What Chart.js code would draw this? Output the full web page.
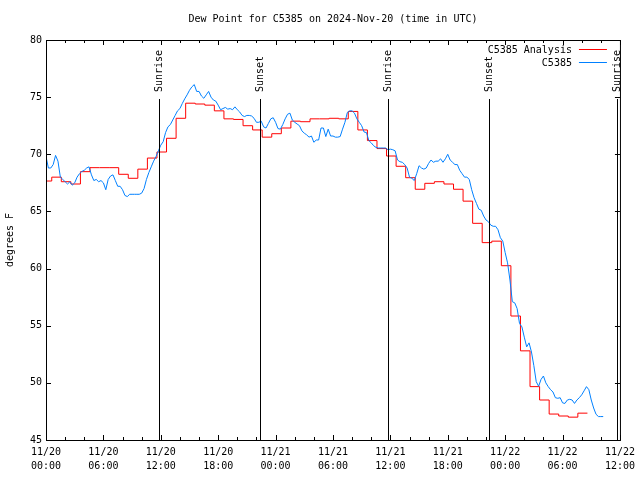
<!DOCTYPE html>
<html><head><meta charset="utf-8">
<script src="https://cdn.jsdelivr.net/npm/chart.js@4/dist/chart.umd.min.js"></script>
<style>html,body{margin:0;padding:0;background:#fff}#wrap{width:640px;height:480px}</style>
</head><body><div id="wrap"><canvas id="c" width="640" height="480"></canvas></div>
<script>
// ---------- data ----------
const titleText = 'Dew Point for C5385 on 2024-Nov-20 (time in UTC)';
const yAxisLabel = 'degrees F';
const xTickLabels = [
  ['11/20','00:00'],['11/20','06:00'],['11/20','12:00'],['11/20','18:00'],
  ['11/21','00:00'],['11/21','06:00'],['11/21','12:00'],['11/21','18:00'],
  ['11/22','00:00'],['11/22','06:00'],['11/22','12:00']
];
const yTickValues = [45, 50, 55, 60, 65, 70, 75, 80];
const analysisLabel = 'C5385 Analysis';
const obsLabel = 'C5385';
// hourly analysis values; each value starts at hour (k-1)+0.6 (first at 0)
const analysisChangeMinute = 0.6;
const analysisValues = [
  67.66, 68.0, 67.6, 67.4, 68.48, 68.83, 68.83, 68.83, 68.25, 67.9,
  68.7, 69.67, 70.2, 71.4, 73.15, 74.47, 74.4, 74.3, 73.8, 73.1,
  73.05, 72.5, 72.13, 71.5, 71.8, 72.3, 72.9, 72.85, 73.1, 73.1,
  73.15, 73.1, 73.75, 72.13, 71.2, 70.5, 69.85, 68.95, 67.95, 66.94,
  67.46, 67.6, 67.4, 66.94, 65.9, 63.96, 62.27, 62.4, 60.25, 55.85,
  52.8, 49.67, 48.5, 47.27, 47.1, 47.0, 47.35
];
// observations every 15 minutes from 11/20 00:00
const obsStepHours = 0.25;
const obsValues = [
  69.8, 68.8, 68.8, 69.1,   69.9, 69.4, 68.0, 67.8,   67.6, 67.4, 67.6, 67.3,
  67.5, 68.0, 68.3, 68.5,   68.6, 68.8, 68.9, 68.2,   67.7, 67.8, 67.6, 67.7,
  67.5, 66.9, 67.8, 68.1,   68.2, 67.7, 67.2, 67.2,   66.9, 66.4, 66.3, 66.5,
  66.5, 66.5, 66.5, 66.5,   66.6, 67.0, 67.8, 68.4,   68.9, 69.4, 69.8, 70.3,
  70.8, 71.1, 71.9, 72.4,   72.6, 73.0, 73.4, 73.8,   74.0, 74.45, 74.85, 75.2,
  75.6, 75.9, 76.1, 75.5,   75.5, 75.1, 74.9, 75.2,   75.5, 75.0, 74.75, 74.65,
  74.3, 73.9, 74.0, 74.1,   73.95, 74.0, 73.9, 74.15, 73.9, 73.7, 73.4, 73.3,
  73.4, 73.4, 73.35, 73.15, 72.8, 72.8, 72.9, 72.4,   72.3, 72.7, 73.1, 73.2,
  72.8, 72.25, 72.2, 72.6,  73.1, 73.5, 73.6, 73.0,   72.8, 72.65, 72.5, 72.05,
  71.85, 71.7, 71.5, 71.6,  71.05, 71.25, 71.25, 72.3, 72.3, 71.55, 72.2, 71.6,
  71.6, 71.5, 71.5, 71.55,  72.2, 72.8, 73.65, 73.8,  73.8, 73.6, 73.1, 72.8,
  72.5, 71.95, 71.9, 71.2,  71.0, 70.75, 70.6, 70.55, 70.55, 70.55, 70.55, 70.4,
  70.45, 70.4, 70.3, 69.5,  69.35, 69.3, 69.1, 68.8,  68.0, 67.9, 67.7, 68.3,
  69.0, 68.8, 68.7, 68.8,   69.2, 69.5, 69.3, 69.4,   69.4, 69.6, 69.3, 69.6,
  70.0, 69.5, 69.3, 69.1,   69.1, 68.6, 68.3, 68.0,   68.0, 67.8, 66.9, 66.2,
  65.7, 65.2, 65.1, 64.6,   64.25, 64.1, 63.8, 63.7,  63.7, 63.4, 62.7, 62.4,
  61.4, 60.5, 59.0, 57.1,   57.0, 56.5, 55.2, 54.9,   54.0, 53.15, 53.5, 52.7,
  51.5, 50.1, 49.7, 50.3,   50.6, 50.0, 49.67, 49.4,  49.2, 48.7, 48.65, 48.7,
  48.25, 48.2, 48.5, 48.56, 48.5, 48.2, 48.5, 48.7,   48.95, 49.3, 49.67, 49.4,
  48.5, 47.8, 47.25, 47.05, 47.05, 47.05
];
const eventHours  = [11.8, 22.35, 35.77, 46.35, 59.7];
const eventLabels = ['Sunrise', 'Sunset', 'Sunrise', 'Sunset', 'Sunrise'];

// ---------- build ----------
const FONT = 'DejaVu Sans Mono';
const obsPoints = obsValues.map((v, i) => ({x: i * obsStepHours, y: v}));
const anPoints = analysisValues.map((v, k) => ({x: k === 0 ? 0 : k - 1 + analysisChangeMinute, y: v}));
anPoints.push({x: analysisValues.length - 1 + analysisChangeMinute, y: analysisValues[analysisValues.length - 1]});

const overlay = {
  id: 'overlay',
  afterDatasetsDraw(chart) {
    const {ctx, chartArea: a, scales: {x, y}} = chart;
    ctx.save();
    ctx.strokeStyle = '#000'; ctx.lineWidth = 1;
    ctx.strokeRect(a.left + 0.5, a.top + 0.5, a.right - a.left, a.bottom - a.top);
    ctx.beginPath();
    for (let h = 0; h <= 60; h += 2) {
      const px = Math.round(x.getPixelForValue(h)) + 0.5;
      const len = h % 6 === 0 ? 5 : 3;
      ctx.moveTo(px, a.bottom); ctx.lineTo(px, a.bottom - len);
      ctx.moveTo(px, a.top); ctx.lineTo(px, a.top + len);
    }
    yTickValues.forEach(v => {
      const py = Math.round(y.getPixelForValue(v)) + 0.5;
      ctx.moveTo(a.left, py); ctx.lineTo(a.left + 5, py);
      ctx.moveTo(a.right, py); ctx.lineTo(a.right - 5, py);
    });
    ctx.stroke();
    // sunrise / sunset markers
    ctx.font = '10px ' + FONT; ctx.fillStyle = '#000';
    eventHours.forEach((t, i) => {
      const px = Math.round(x.getPixelForValue(t)) + 0.5;
      ctx.beginPath(); ctx.moveTo(px, a.top + 59); ctx.lineTo(px, a.bottom); ctx.stroke();
      ctx.save(); ctx.translate(px, a.top + 52); ctx.rotate(-Math.PI / 2);
      ctx.textAlign = 'left'; ctx.textBaseline = 'middle';
      ctx.fillText(eventLabels[i], 0, 0); ctx.restore();
    });
    // legend
    const items = [[analysisLabel, '#ff0000'], [obsLabel, '#0080ff']];
    items.forEach(([lab, col], i) => {
      const ty = a.top + 10 + i * 13;
      ctx.textAlign = 'right'; ctx.textBaseline = 'middle'; ctx.fillStyle = '#000';
      ctx.fillText(lab, a.right - 48, ty);
      ctx.strokeStyle = col; ctx.beginPath();
      ctx.moveTo(a.right - 41, Math.round(ty) - 0.5); ctx.lineTo(a.right - 13, Math.round(ty) - 0.5); ctx.stroke();
    });
    // title and y label
    ctx.fillStyle = '#000'; ctx.textAlign = 'center'; ctx.textBaseline = 'middle';
    ctx.fillText(titleText, (a.left + a.right) / 2, 19);
    ctx.save(); ctx.translate(10, (a.top + a.bottom) / 2); ctx.rotate(-Math.PI / 2);
    ctx.fillText(yAxisLabel, 0, 0); ctx.restore();
    ctx.restore();
  }
};

new Chart(document.getElementById('c'), {
  type: 'line',
  data: { datasets: [
    {label: obsLabel, data: obsPoints, borderColor: '#0080ff', borderWidth: 1, pointRadius: 0, tension: 0, order: 1},
    {label: analysisLabel, data: anPoints, borderColor: '#ff0000', borderWidth: 1, pointRadius: 0, stepped: true, order: 2}
  ]},
  options: {
    responsive: false, animation: false, devicePixelRatio: 1,
    layout: {padding: {top: 40, right: 18, left: 0, bottom: 0}},
    plugins: {legend: {display: false}, tooltip: {enabled: false}, title: {display: false}},
    scales: {
      x: {type: 'linear', min: 0, max: 60,
          ticks: {stepSize: 6, autoSkip: false, maxRotation: 0, padding: 5, color: '#000',
                  font: {family: FONT, size: 10, lineHeight: 1.4},
                  callback: v => xTickLabels[Math.round(v / 6)]},
          grid: {display: false, drawTicks: false}, border: {display: false},
          afterFit: s => { s.height = 40; }},
      y: {min: 45, max: 80,
          ticks: {stepSize: 5, padding: 4, color: '#000', font: {family: FONT, size: 10}},
          grid: {display: false, drawTicks: false}, border: {display: false},
          afterFit: s => { s.width = 46; }}
    }
  },
  plugins: [overlay]
});
</script></body></html>
